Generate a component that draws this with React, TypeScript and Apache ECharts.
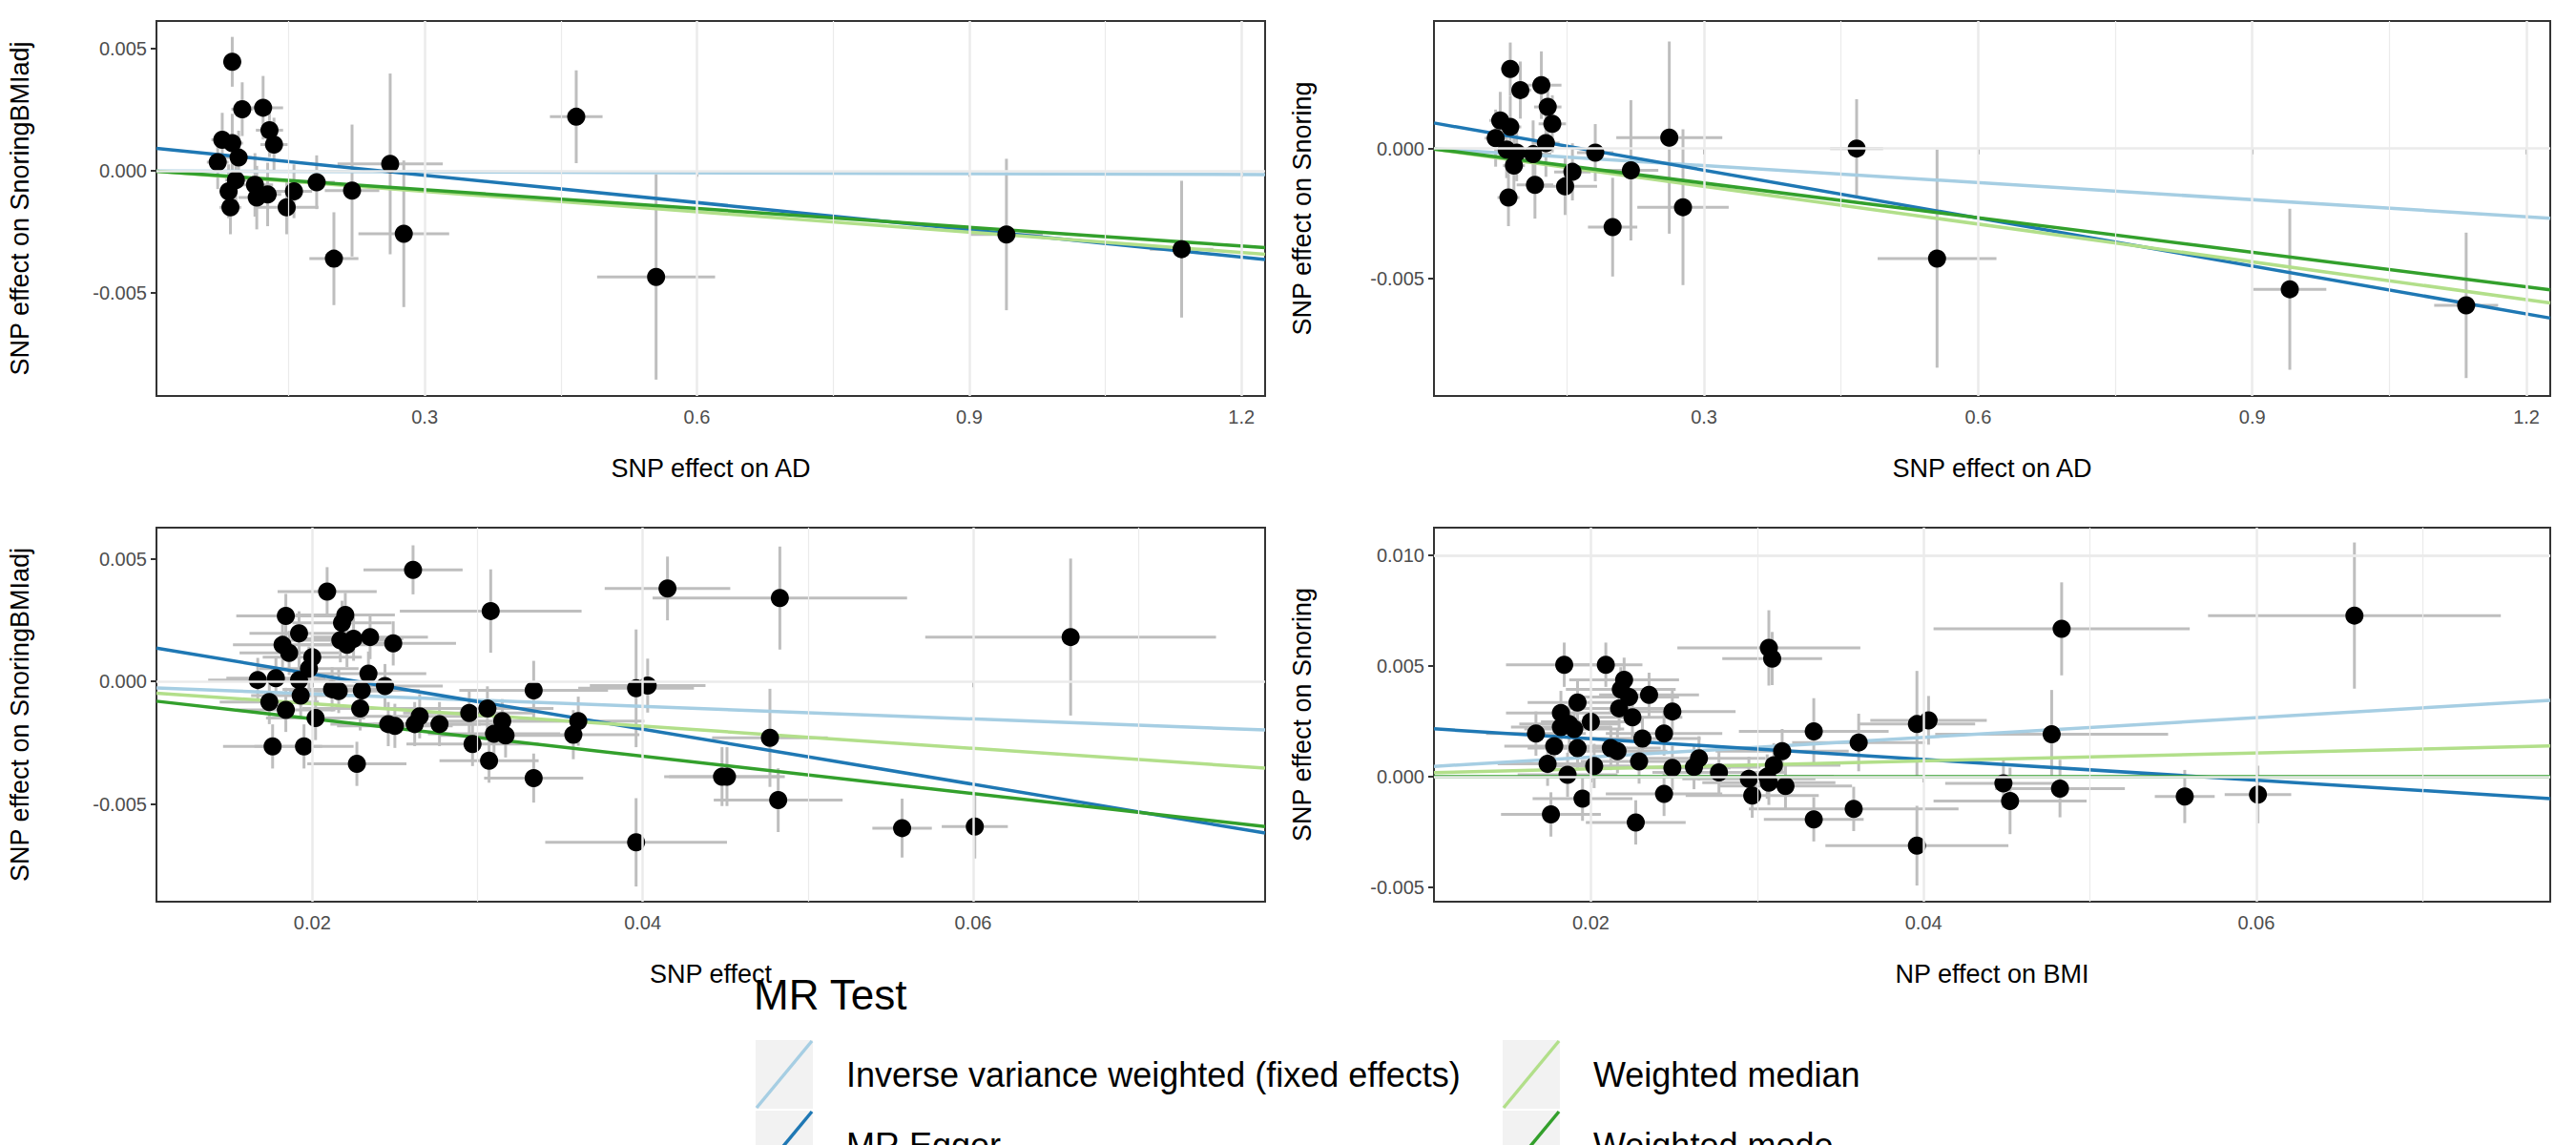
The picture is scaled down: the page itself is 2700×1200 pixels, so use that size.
import { useRef, useEffect } from 'react'
import * as echarts from 'echarts'

const FONT = '"Liberation Sans", Arial, sans-serif'

// [x, y, xse, yse]
const adPoints1 = [
  [0.088, 0.00447, 0.01, 0.00102], [0.099, 0.00253, 0.012, 0.0011], [0.122, 0.00259, 0.022, 0.0013],
  [0.129, 0.00167, 0.015, 0.0011], [0.134, 0.00108, 0.015, 0.0011], [0.077, 0.00128, 0.012, 0.0011],
  [0.088, 0.00114, 0.012, 0.0012], [0.072, 0.00036, 0.012, 0.0011], [0.095, 0.00055, 0.015, 0.0011],
  [0.092, -0.00037, 0.012, 0.0011], [0.084, -0.00083, 0.01, 0.0011], [0.086, -0.00149, 0.012, 0.0011],
  [0.113, -0.00057, 0.02, 0.0013], [0.115, -0.00109, 0.02, 0.0013], [0.127, -0.00096, 0.015, 0.0013],
  [0.148, -0.00149, 0.035, 0.0011], [0.156, -0.00083, 0.02, 0.0011], [0.181, -0.00046, 0.02, 0.0011],
  [0.22, -0.0008, 0.03, 0.0027], [0.262, 0.00029, 0.058, 0.0037], [0.2, -0.00359, 0.027, 0.0019],
  [0.277, -0.00257, 0.05, 0.003], [0.467, 0.00222, 0.029, 0.0019], [0.555, -0.00434, 0.065, 0.0042],
  [0.941, -0.0026, 0.04, 0.0031], [1.134, -0.0032, 0.035, 0.0028],
]
const adPoints2 = [
  [0.088, 0.00306, 0.01, 0.00102], [0.099, 0.00225, 0.012, 0.0011], [0.122, 0.00244, 0.022, 0.0013],
  [0.129, 0.0016, 0.015, 0.0011], [0.134, 0.00095, 0.015, 0.0011], [0.077, 0.00108, 0.012, 0.0011],
  [0.088, 0.00083, 0.012, 0.0012], [0.072, 0.0004, 0.012, 0.0011], [0.095, -0.00016, 0.015, 0.0011],
  [0.092, -0.00066, 0.012, 0.0011], [0.084, -0.00004, 0.01, 0.0011], [0.086, -0.00189, 0.012, 0.0011],
  [0.113, -0.00022, 0.02, 0.0013], [0.115, -0.0014, 0.02, 0.0013], [0.127, 0.00021, 0.015, 0.0013],
  [0.148, -0.00146, 0.035, 0.0011], [0.156, -0.0009, 0.02, 0.0011], [0.181, -0.00016, 0.02, 0.0011],
  [0.22, -0.00084, 0.03, 0.0027], [0.262, 0.00042, 0.058, 0.0037], [0.2, -0.00303, 0.027, 0.0019],
  [0.277, -0.00226, 0.05, 0.003], [0.467, 0.0, 0.029, 0.0019], [0.555, -0.00424, 0.065, 0.0042],
  [0.941, -0.00542, 0.04, 0.0031], [1.134, -0.00604, 0.035, 0.0028],
]
const bmiPoints3 = [
  [0.0261, 0.00455, 0.003, 0.001], [0.0209, 0.00366, 0.003, 0.001], [0.0184, 0.00267, 0.003, 0.0009],
  [0.022, 0.00271, 0.003, 0.0009], [0.0218, 0.00239, 0.003, 0.0009], [0.0192, 0.00196, 0.003, 0.0009],
  [0.0182, 0.00149, 0.003, 0.0009], [0.0186, 0.00116, 0.003, 0.0009], [0.02, 0.00099, 0.003, 0.0009],
  [0.0217, 0.00168, 0.003, 0.0009], [0.0221, 0.00149, 0.003, 0.0009], [0.0225, 0.00174, 0.003, 0.0009],
  [0.0235, 0.00181, 0.0035, 0.0009], [0.0249, 0.00155, 0.0038, 0.0009], [0.0198, 0.00052, 0.003, 0.0009],
  [0.0167, 0.00006, 0.003, 0.0009], [0.0178, 0.00013, 0.003, 0.0009], [0.0192, 0.00006, 0.003, 0.0009],
  [0.0234, 0.00032, 0.0035, 0.0009], [0.0212, -0.00032, 0.003, 0.0009], [0.0216, -0.00039, 0.003, 0.0009],
  [0.023, -0.00036, 0.0035, 0.0009], [0.0244, -0.00019, 0.0035, 0.0009], [0.0174, -0.00084, 0.003, 0.0009],
  [0.0184, -0.00116, 0.003, 0.0009], [0.0193, -0.00058, 0.003, 0.0009], [0.0202, -0.00149, 0.003, 0.0009],
  [0.0229, -0.0011, 0.0035, 0.0009], [0.0246, -0.00174, 0.0035, 0.0009], [0.025, -0.00181, 0.0035, 0.0009],
  [0.0262, -0.00174, 0.004, 0.0009], [0.0265, -0.00142, 0.004, 0.0009], [0.0277, -0.00174, 0.004, 0.0009],
  [0.0295, -0.00129, 0.004, 0.0009], [0.0306, -0.0011, 0.004, 0.0009], [0.0315, -0.00162, 0.004, 0.0009],
  [0.031, -0.00213, 0.004, 0.0009], [0.0317, -0.0022, 0.004, 0.0009], [0.0297, -0.00255, 0.004, 0.0009],
  [0.0307, -0.00323, 0.003, 0.0009], [0.0334, -0.00394, 0.003, 0.001], [0.0176, -0.00265, 0.003, 0.0009],
  [0.0195, -0.00265, 0.003, 0.0009], [0.0227, -0.00336, 0.003, 0.0009], [0.0308, 0.00287, 0.0055, 0.0017],
  [0.0334, -0.00036, 0.0045, 0.0012], [0.0361, -0.00162, 0.004, 0.001], [0.0358, -0.00217, 0.004, 0.001],
  [0.0396, -0.00028, 0.0035, 0.0024], [0.0403, -0.00017, 0.0035, 0.0011], [0.0415, 0.00379, 0.0038, 0.0013],
  [0.0483, 0.0034, 0.0077, 0.0021], [0.0477, -0.0023, 0.0035, 0.002], [0.0448, -0.00388, 0.0035, 0.0012],
  [0.0451, -0.00388, 0.0035, 0.0012], [0.0482, -0.00484, 0.0039, 0.0013], [0.0396, -0.00656, 0.0055, 0.0018],
  [0.0557, -0.00598, 0.0018, 0.0012], [0.0601, -0.00592, 0.002, 0.0013], [0.0659, 0.00181, 0.0088, 0.0032],
]
const bmiPoints4 = [
  [0.0184, 0.00506, 0.0035, 0.001], [0.0209, 0.00506, 0.0022, 0.001], [0.022, 0.00438, 0.0033, 0.001],
  [0.0218, 0.00395, 0.0033, 0.001], [0.0223, 0.0036, 0.003, 0.001], [0.0235, 0.0037, 0.003, 0.001],
  [0.0192, 0.00335, 0.003, 0.001], [0.0217, 0.00309, 0.003, 0.001], [0.0249, 0.00295, 0.0038, 0.001],
  [0.0182, 0.00288, 0.0033, 0.001], [0.0225, 0.00269, 0.003, 0.001], [0.02, 0.00248, 0.003, 0.001],
  [0.0187, 0.00238, 0.003, 0.001], [0.0182, 0.00224, 0.003, 0.001], [0.019, 0.00216, 0.003, 0.001],
  [0.0167, 0.00195, 0.003, 0.001], [0.0231, 0.00173, 0.0035, 0.001], [0.0244, 0.00195, 0.0035, 0.001],
  [0.0178, 0.00138, 0.003, 0.001], [0.0192, 0.0013, 0.003, 0.001], [0.0212, 0.0013, 0.003, 0.001],
  [0.0216, 0.00116, 0.003, 0.001], [0.0174, 0.00059, 0.003, 0.001], [0.0229, 0.00069, 0.0035, 0.001],
  [0.0202, 0.00049, 0.003, 0.001], [0.0186, 0.00009, 0.003, 0.001], [0.0249, 0.0004, 0.0035, 0.001],
  [0.0262, 0.00044, 0.004, 0.001], [0.0265, 0.00083, 0.004, 0.001], [0.0277, 0.0002, 0.004, 0.001],
  [0.0295, -0.00009, 0.004, 0.001], [0.0306, 0.00001, 0.004, 0.001], [0.031, 0.00052, 0.004, 0.001],
  [0.0315, 0.00116, 0.004, 0.001], [0.0307, -0.00027, 0.004, 0.001], [0.0317, -0.00042, 0.004, 0.001],
  [0.0297, -0.00085, 0.004, 0.001], [0.0195, -0.00099, 0.003, 0.001], [0.0244, -0.00077, 0.0035, 0.001],
  [0.0176, -0.0017, 0.003, 0.001], [0.0227, -0.00206, 0.003, 0.001], [0.0334, -0.00192, 0.003, 0.001],
  [0.0358, -0.00145, 0.0063, 0.001], [0.0334, 0.00205, 0.0045, 0.0015], [0.0361, 0.00155, 0.004, 0.0013],
  [0.0307, 0.00582, 0.0055, 0.0017], [0.0309, 0.00534, 0.003, 0.0012], [0.0396, 0.00238, 0.0035, 0.0024],
  [0.0403, 0.00255, 0.0035, 0.0011], [0.0477, 0.00192, 0.007, 0.002], [0.0483, 0.00668, 0.0077, 0.0021],
  [0.0659, 0.00728, 0.0088, 0.0033], [0.0448, -0.0003, 0.0035, 0.0011], [0.0452, -0.00109, 0.0046, 0.0015],
  [0.0482, -0.00053, 0.0039, 0.0013], [0.0396, -0.00311, 0.0055, 0.0018], [0.0557, -0.00089, 0.0018, 0.0012],
  [0.0601, -0.0008, 0.002, 0.0013],
]

const methods = ['Inverse variance weighted (fixed effects)', 'MR Egger', 'Weighted median', 'Weighted mode']
const methodColors = ['#a6cee3', '#1f78b4', '#b2df8a', '#33a02c']
// [intercept, slope] per method, per panel
const fits1 = [[0, -0.00012], [0.00094, -0.00372], [0, -0.00278], [0, -0.00256]]
const fits2 = [[0, -0.00219], [0.00101, -0.00615], [0, -0.00485], [0, -0.00444]]
const fits3 = [[0, -0.0255], [0.00255, -0.1124], [0, -0.0455], [0, -0.0762]]
const fits4 = [[0, 0.0445], [0.00266, -0.0469], [0, 0.0179], [0, 0]]

const xRangeAD = [0.0045, 1.226]
const xRangeBMI = [0.01057, 0.07767]
const yRanges = [[-0.00921, 0.00614], [-0.00953, 0.00491], [-0.00898, 0.00627], [-0.00564, 0.01125]]

const xTicksAD = [0.3, 0.6, 0.9, 1.2]
const xMinorAD = [0.15, 0.45, 0.75, 1.05]
const xTicksBMI = [0.02, 0.04, 0.06]
const xMinorBMI = [0.03, 0.05, 0.07]
const yTicks = [[-0.005, 0, 0.005], [-0.005, 0], [-0.005, 0, 0.005], [-0.005, 0, 0.005, 0.01]]
const yMinor = [[-0.0075, -0.0025, 0.0025], [-0.0075, -0.0025, 0.0025], [-0.0075, -0.0025, 0.0025], [-0.0025, 0.0025, 0.0075]]

const yNames = ['SNP effect on SnoringBMIadj', 'SNP effect on Snoring', 'SNP effect on SnoringBMIadj', 'SNP effect on Snoring']
const xNames = ['SNP effect on AD', 'SNP effect on AD', 'SNP effect', 'NP effect on BMI']

const grids = [
  { left: 164, top: 22, width: 1162, height: 393 },
  { left: 1503, top: 22, width: 1170, height: 393 },
  { left: 164, top: 553, width: 1162, height: 392 },
  { left: 1503, top: 553, width: 1170, height: 392 },
]

function buildOption() {
  const panels = [
    { pts: adPoints1, fits: fits1, xr: xRangeAD, xt: xTicksAD, xm: xMinorAD, dec: 1 },
    { pts: adPoints2, fits: fits2, xr: xRangeAD, xt: xTicksAD, xm: xMinorAD, dec: 1 },
    { pts: bmiPoints3, fits: fits3, xr: xRangeBMI, xt: xTicksBMI, xm: xMinorBMI, dec: 2 },
    { pts: bmiPoints4, fits: fits4, xr: xRangeBMI, xt: xTicksBMI, xm: xMinorBMI, dec: 2 },
  ]
  const xAxis: any[] = []
  const yAxis: any[] = []
  const series: any[] = []
  const labelStyle = { color: '#4d4d4d', fontSize: 20, fontFamily: FONT }
  panels.forEach((p, i) => {
    xAxis.push({
      type: 'value', gridIndex: i, min: p.xr[0], max: p.xr[1],
      name: xNames[i], nameLocation: 'middle', nameGap: 62,
      nameTextStyle: { color: '#000', fontSize: 27, fontFamily: FONT },
      axisLine: { show: false },
      axisTick: { show: true, customValues: p.xt, length: 6, lineStyle: { color: '#333', width: 2 } },
      axisLabel: { show: true, customValues: p.xt, margin: 12, formatter: (v: number) => v.toFixed(p.dec), ...labelStyle },
      splitLine: { show: false },
    })
    yAxis.push({
      type: 'value', gridIndex: i, min: yRanges[i][0], max: yRanges[i][1],
      name: yNames[i], nameLocation: 'middle', nameGap: i % 2 ? 125 : 130,
      nameTextStyle: { color: '#000', fontSize: 27, fontFamily: FONT },
      axisLine: { show: false },
      axisTick: { show: true, customValues: yTicks[i], length: 6, lineStyle: { color: '#333', width: 2 } },
      axisLabel: { show: true, customValues: yTicks[i], margin: 10, formatter: (v: number) => v.toFixed(3), ...labelStyle },
      splitLine: { show: false },
    })
    const gridLines = [
      ...p.xt.map((v) => ({ xAxis: v, lineStyle: { color: '#ebebeb', width: 2.5, type: 'solid' } })),
      ...p.xm.map((v) => ({ xAxis: v, lineStyle: { color: '#ebebeb', width: 1.2, type: 'solid' } })),
      ...yTicks[i].map((v) => ({ yAxis: v, lineStyle: { color: '#ebebeb', width: 2.5, type: 'solid' } })),
      ...yMinor[i].map((v) => ({ yAxis: v, lineStyle: { color: '#ebebeb', width: 1.2, type: 'solid' } })),
    ]
    series.push({
      type: 'line', xAxisIndex: i, yAxisIndex: i, data: [], z: 0, silent: true,
      markLine: { silent: true, symbol: 'none', label: { show: false }, data: gridLines },
    })
    series.push({
      type: 'custom', xAxisIndex: i, yAxisIndex: i, z: 1, clip: true,
      data: p.pts,
      encode: { x: 0, y: 1 },
      renderItem: (_params: any, api: any) => {
        const x = api.value(0), y = api.value(1), sx = api.value(2), sy = api.value(3)
        const a = api.coord([x - sx, y]), b = api.coord([x + sx, y])
        const c = api.coord([x, y - sy]), d = api.coord([x, y + sy])
        const st = { stroke: '#bebebe', lineWidth: 3 }
        return {
          type: 'group',
          children: [
            { type: 'line', shape: { x1: a[0], y1: a[1], x2: b[0], y2: b[1] }, style: st },
            { type: 'line', shape: { x1: c[0], y1: c[1], x2: d[0], y2: d[1] }, style: st },
          ],
        }
      },
    })
    p.fits.forEach((f, m) => {
      series.push({
        type: 'line', xAxisIndex: i, yAxisIndex: i, z: 2, symbol: 'none', silent: true,
        data: p.xr.map((x) => [x, f[0] + f[1] * x]),
        lineStyle: { color: methodColors[m], width: 3.5 },
      })
    })
    series.push({
      type: 'scatter', xAxisIndex: i, yAxisIndex: i, z: 3, symbolSize: 19,
      data: p.pts.map((q) => [q[0], q[1]]),
      itemStyle: { color: '#000', opacity: 1 },
    })
  })

  const legendItems: any[] = [
    { type: 'text', left: 790, top: 1020, style: { text: 'MR Test', fontSize: 44, fontFamily: FONT, fill: '#000' } },
  ]
  methods.forEach((name, m) => {
    const col = m === 0 || m === 1 ? 0 : 1
    const row = m % 2
    const x0 = col === 0 ? 792 : 1575
    const y0 = 1090 + row * 74
    legendItems.push({ type: 'rect', shape: { x: x0, y: y0, width: 60, height: 72 }, style: { fill: '#f2f2f2' } })
    legendItems.push({
      type: 'line', shape: { x1: x0 + 1, y1: y0 + 71, x2: x0 + 59, y2: y0 + 1 },
      style: { stroke: methodColors[m], lineWidth: 3.5 },
    })
    legendItems.push({
      type: 'text', x: x0 + 95, y: y0 + 36,
      style: { text: name, fontSize: 36, fontFamily: FONT, fill: '#000', textVerticalAlign: 'middle' },
    })
  })

  return {
    animation: false,
    backgroundColor: '#fff',
    grid: grids.map((g) => ({ ...g, show: true, borderColor: '#333', borderWidth: 2, backgroundColor: 'transparent' })),
    xAxis,
    yAxis,
    series,
    graphic: legendItems,
  }
}

export default function App() {
  const ref = useRef<HTMLDivElement>(null)
  useEffect(() => {
    document.body.style.margin = '0'
    if (!ref.current) return
    const chart = echarts.init(ref.current, undefined, { renderer: 'svg' })
    chart.setOption(buildOption() as any)
    return () => chart.dispose()
  }, [])
  return <div ref={ref} style={{ width: 2700, height: 1200 }} />
}
